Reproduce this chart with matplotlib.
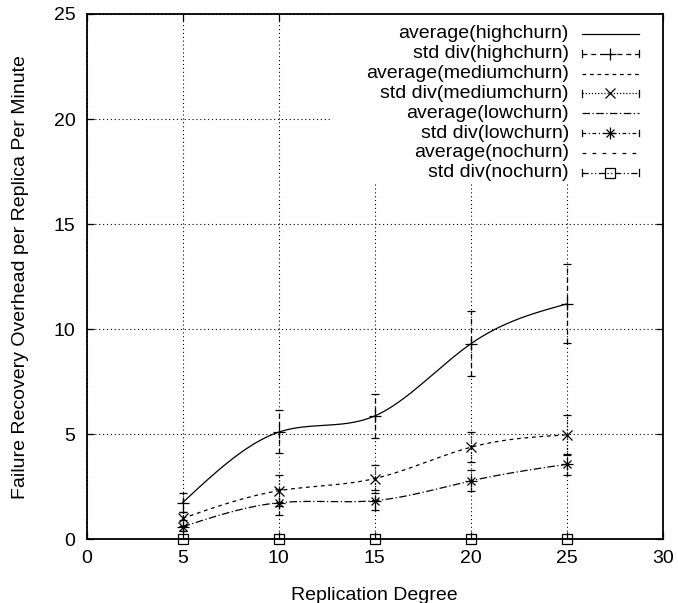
import numpy as np
import matplotlib
matplotlib.use('Agg')
import matplotlib.pyplot as plt
from matplotlib.lines import Line2D

plt.rcParams['font.family'] = ['Liberation Sans', 'DejaVu Sans']
plt.rcParams['font.size'] = 14

# ---------- data ----------
degree = [5, 10, 15, 20, 25]

high_avg = [1.75, 5.1, 5.87, 9.3, 11.2]
high_lo = [1.31, 4.1, 4.81, 7.75, 9.33]
high_hi = [2.19, 6.15, 6.92, 10.85, 13.1]

med_avg = [1.0, 2.31, 2.89, 4.38, 4.97]
med_lo = [0.65, 1.6, 2.2, 3.7, 4.0]
med_hi = [1.3, 3.05, 3.55, 5.1, 5.92]

low_avg = [0.6, 1.74, 1.84, 2.78, 3.57]
low_lo = [0.4, 1.16, 1.4, 2.3, 3.06]
low_hi = [0.9, 2.4, 2.35, 3.3, 4.06]

no_avg = [0, 0, 0, 0, 0]
no_lo = [0, 0, 0, 0, 0]
no_hi = [0, 0, 0, 0, 0]

labels = ['average(highchurn)', 'std div(highchurn)',
          'average(mediumchurn)', 'std div(mediumchurn)',
          'average(lowchurn)', 'std div(lowchurn)',
          'average(nochurn)', 'std div(nochurn)']


def csplines(x, y, n=200):
    # natural cubic spline, like gnuplot "smooth csplines"
    x = np.asarray(x, float)
    y = np.asarray(y, float)
    k = len(x)
    h = np.diff(x)
    A = np.zeros((k, k))
    b = np.zeros(k)
    A[0, 0] = A[-1, -1] = 1
    for i in range(1, k - 1):
        A[i, i - 1] = h[i - 1]
        A[i, i] = 2 * (h[i - 1] + h[i])
        A[i, i + 1] = h[i]
        b[i] = 6 * ((y[i + 1] - y[i]) / h[i] - (y[i] - y[i - 1]) / h[i - 1])
    M = np.linalg.solve(A, b)
    xs = np.linspace(x[0], x[-1], n)
    ys = np.empty_like(xs)
    for j, xv in enumerate(xs):
        i = min(np.searchsorted(x, xv, side='right') - 1, k - 2)
        t1 = x[i + 1] - xv
        t0 = xv - x[i]
        ys[j] = (M[i] * t1**3 / (6 * h[i]) + M[i + 1] * t0**3 / (6 * h[i])
                 + (y[i] / h[i] - M[i] * h[i] / 6) * t1
                 + (y[i + 1] / h[i] - M[i + 1] * h[i] / 6) * t0)
    return xs, ys


# markers: gnuplot star = plus + cross
series = [
    (high_avg, high_lo, high_hi, '-', (0, (4, 3)), ['+'], 8),
    (med_avg, med_lo, med_hi, (0, (3, 3)), (0, (1, 1.5)), ['x'], 7),
    (low_avg, low_lo, low_hi, (0, (6, 2, 1, 2)), (0, (3, 2, 1, 2)), ['+', 'x'], 8),
    (no_avg, no_lo, no_hi, (0, (3, 5)), (0, (5, 2, 1, 2, 1, 2)), ['s'], 6.5),
]

fig = plt.figure(figsize=(6.78, 6.03), dpi=100)
ax = fig.add_axes([86.7 / 678, 1 - 539.3 / 603, 576 / 678, 525.3 / 603])

lw = 0.9
for avg, lo, hi, ls_avg, ls_err, mks, ms in series:
    xs, ys = csplines(degree, avg)
    ax.plot(xs, ys, color='k', lw=lw, linestyle=ls_avg, zorder=3)
    err = [np.array(avg) - np.array(lo), np.array(hi) - np.array(avg)]
    _, caps, bars = ax.errorbar(degree, avg, yerr=err, fmt='none', ecolor='k',
                                elinewidth=lw, capsize=3.2, capthick=lw, zorder=3)
    for b in bars:
        b.set_linestyle(ls_err)
    for mk in mks:
        mfc = 'none' if mk == 's' else 'k'
        msz = ms * 0.8 if (mk == 'x' and len(mks) > 1) else ms
        ax.plot(degree, avg, linestyle='none', marker=mk, markersize=msz,
                markerfacecolor=mfc, markeredgecolor='k', markeredgewidth=lw,
                zorder=4, clip_on=False)

ax.set_xlim(0, 30)
ax.set_ylim(0, 25)
ax.set_xticks(range(0, 31, 5))
ax.set_yticks(range(0, 26, 5))
ax.tick_params(direction='in', length=5, width=0.9, top=True, right=True, pad=8)
ax.grid(True, color='k', linestyle=(0, (1, 2.5)), linewidth=0.8)
ax.set_axisbelow(True)
for s in ax.spines.values():
    s.set_linewidth(1.3)

ax.set_xlabel('Replication Degree', labelpad=14)
ax.set_ylabel('Failure Recovery Overhead per Replica Per Minute', labelpad=18)

# ---------- key (gnuplot-like, right aligned text) ----------
def fx(px):
    return (px - 86.7) / 576


def fy(py):
    return (539.3 - py) / 525.3


ax.add_patch(plt.Rectangle((fx(330), fy(183)), 1 - fx(330), 1 - fy(183),
                           transform=ax.transAxes, facecolor='white',
                           edgecolor='none', zorder=1))

x_text, x1, x2 = fx(569), fx(582), fx(639)
xm = (x1 + x2) / 2
cap = 3.5 / 525.3
for i, lab in enumerate(labels):
    yy = fy(34 + 19.8 * i)
    ax.text(x_text, yy, lab, transform=ax.transAxes, ha='right', va='center', zorder=5)
    avg, lo, hi, ls_avg, ls_err, mks, ms = series[i // 2]
    if i % 2 == 0:
        ax.add_line(Line2D([x1, x2], [yy, yy], transform=ax.transAxes, color='k',
                           lw=lw, linestyle=ls_avg, zorder=5))
    else:
        ax.add_line(Line2D([x1, x2], [yy, yy], transform=ax.transAxes, color='k',
                           lw=lw, linestyle=ls_err, zorder=5))
        for xe in (x1, x2):
            ax.add_line(Line2D([xe, xe], [yy - cap, yy + cap], transform=ax.transAxes,
                               color='k', lw=lw, zorder=5))
        for mk in mks:
            mfc = 'none' if mk == 's' else 'k'
            msz = ms * 0.8 if (mk == 'x' and len(mks) > 1) else ms
            ax.add_line(Line2D([xm], [yy], transform=ax.transAxes, marker=mk,
                               markersize=msz, markerfacecolor=mfc,
                               markeredgecolor='k', markeredgewidth=lw,
                               linestyle='none', zorder=6))

fig.savefig('out.png', dpi=100)
